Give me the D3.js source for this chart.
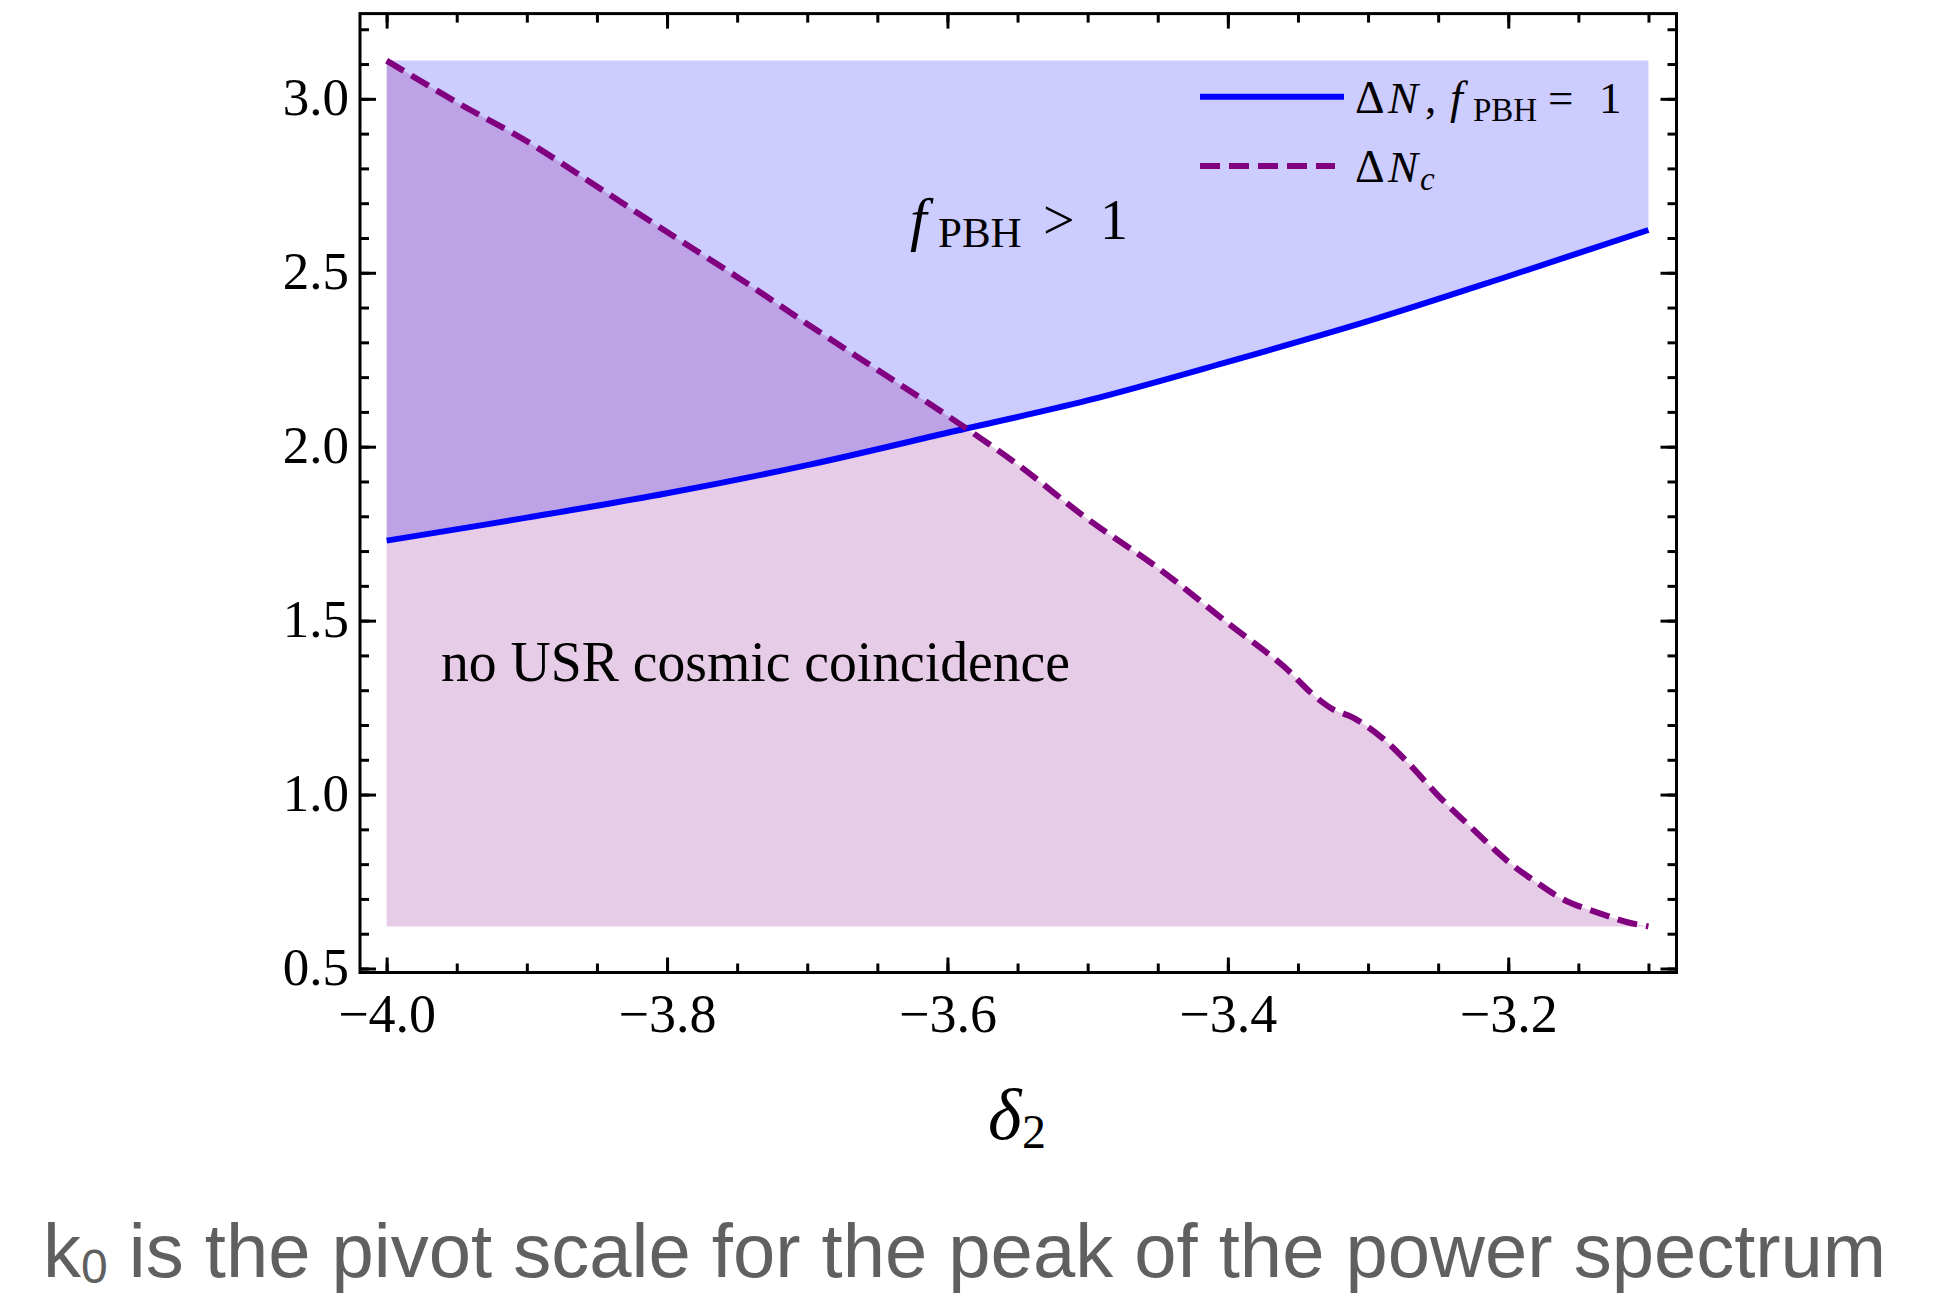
<!DOCTYPE html>
<html>
<head>
<meta charset="utf-8">
<script src="https://cdn.jsdelivr.net/npm/d3@7"></script>
<style>
  body { margin: 0; background: #fff; }
  svg { display: block; }
</style>
</head>
<body>
<div id="chart"></div>
<script>
// ΔN for f_PBH = 1 (solid blue)
const deltaF = [-4.0, -3.9, -3.8, -3.7, -3.6, -3.5, -3.4, -3.3, -3.2, -3.1]
const dNf = [1.73, 1.796, 1.866, 1.947, 2.04, 2.133, 2.244, 2.361, 2.49, 2.623]

// ΔN_c (dashed purple)
const deltaC = [-4.0, -3.95, -3.9, -3.85, -3.8, -3.75, -3.7, -3.65, -3.6, -3.55, -3.5, -3.45, -3.4,
  -3.36, -3.34, -3.325, -3.31, -3.29, -3.27, -3.25, -3.225, -3.2, -3.18, -3.16, -3.13, -3.115, -3.1]
const dNc = [3.11, 2.99, 2.878, 2.748, 2.617, 2.488, 2.353, 2.221, 2.089, 1.949, 1.792, 1.652, 1.493,
  1.368, 1.29, 1.245, 1.22, 1.163, 1.085, 0.997, 0.9, 0.807, 0.748, 0.697, 0.652, 0.633, 0.621]

const xMajor = [-4.0, -3.8, -3.6, -3.4, -3.2]
const yMajor = [0.5, 1.0, 1.5, 2.0, 2.5, 3.0]
const xMinor = d3.range(0, 19).map(i => +(-4.0 + i * 0.05).toFixed(2))
const yMinor = d3.range(0, 28).map(i => +(0.5 + i * 0.1).toFixed(1))

const W = 1937, H = 1296
const frame = { left: 360, right: 1676.5, top: 13.6, bottom: 972.5 }
const serif = '"Liberation Serif", "Times New Roman", serif'

const x = d3.scaleLinear().domain([-4.019, -3.080]).range([frame.left, frame.right])
const y = d3.scaleLinear().domain([0.4885, 3.245]).range([frame.bottom, frame.top])

const svg = d3.select('#chart').append('svg')
  .attr('width', W).attr('height', H)
  .style('background', '#fff')

const blue = deltaF.map((d, i) => ({ x: d, y: dNf[i] }))
const purple = deltaC.map((d, i) => ({ x: d, y: dNc[i] }))
const fillTop = d3.max(dNc)
const fillFloor = d3.min(dNc)

const curve = d3.curveCatmullRom.alpha(0.5)

// fills
svg.append('path')
  .datum(blue)
  .attr('d', d3.area().curve(curve).x(d => x(d.x)).y0(y(fillTop)).y1(d => y(d.y)))
  .attr('fill', '#0000ff').attr('fill-opacity', 0.2)

svg.append('path')
  .datum(purple)
  .attr('d', d3.area().curve(curve).x(d => x(d.x)).y0(y(fillFloor)).y1(d => y(d.y)))
  .attr('fill', '#800080').attr('fill-opacity', 0.2)

// lines
const line = d3.line().curve(curve).x(d => x(d.x)).y(d => y(d.y))
svg.append('path').datum(blue).attr('d', line)
  .attr('fill', 'none').attr('stroke', '#0000ff').attr('stroke-width', 6)
svg.append('path').datum(purple).attr('d', line)
  .attr('fill', 'none').attr('stroke', '#800080').attr('stroke-width', 6)
  .attr('stroke-dasharray', '20,9')

// ticks on all four sides, pointing in
const tickGroup = (axis, tx, ty) => {
  const g = svg.append('g').attr('transform', `translate(${tx},${ty})`).call(axis)
  g.select('.domain').remove()
  g.selectAll('line').attr('stroke', '#000').attr('stroke-width', 3)
  return g
}
tickGroup(d3.axisBottom(x).tickValues(xMinor).tickSize(-9).tickFormat(''), 0, frame.bottom)
tickGroup(d3.axisTop(x).tickValues(xMinor).tickSize(-9).tickFormat(''), 0, frame.top)
tickGroup(d3.axisTop(x).tickValues(xMajor).tickSize(-15).tickFormat(''), 0, frame.top)
tickGroup(d3.axisLeft(y).tickValues(yMinor).tickSize(-9).tickFormat(''), frame.left, 0)
tickGroup(d3.axisRight(y).tickValues(yMinor).tickSize(-9).tickFormat(''), frame.right, 0)
tickGroup(d3.axisRight(y).tickValues(yMajor).tickSize(-16).tickFormat(''), frame.right, 0)

const xAxis = tickGroup(d3.axisBottom(x).tickValues(xMajor).tickSize(-15).tickFormat(d3.format('.1f')), 0, frame.bottom)
xAxis.attr('font-family', null).attr('font-size', null)
xAxis.selectAll('text')
  .attr('y', 59).attr('dy', null)
  .style('font-family', serif).style('font-size', '54px').attr('fill', '#000')

const yAxis = tickGroup(d3.axisLeft(y).tickValues(yMajor).tickSize(-16).tickFormat(d3.format('.1f')), frame.left, 0)
yAxis.attr('font-family', null).attr('font-size', null)
yAxis.selectAll('text')
  .attr('x', -11).attr('dy', '0.3em')
  .style('font-family', serif).style('font-size', '53px').attr('fill', '#000')

// frame
svg.append('rect')
  .attr('x', frame.left).attr('y', frame.top)
  .attr('width', frame.right - frame.left).attr('height', frame.bottom - frame.top)
  .attr('fill', 'none').attr('stroke', '#000').attr('stroke-width', 3)

// small helper for math-like labels built from pieces
const piece = (px, py, str, size, italic) => svg.append('text')
  .attr('x', px).attr('y', py).text(str)
  .style('font-family', serif).style('font-size', size + 'px')
  .style('font-style', italic ? 'italic' : 'normal').attr('fill', '#000')

// legend
svg.append('line').attr('x1', 1200).attr('x2', 1344).attr('y1', 96.7).attr('y2', 96.7)
  .attr('stroke', '#0000ff').attr('stroke-width', 6)
svg.append('line').attr('x1', 1200).attr('x2', 1335).attr('y1', 166).attr('y2', 166)
  .attr('stroke', '#800080').attr('stroke-width', 6).attr('stroke-dasharray', '20,9')

piece(1355, 113, 'Δ', 46, false)
piece(1388, 113, 'N', 45, true)
piece(1425, 113, ',', 45, false)
piece(1450, 113, 'f', 46, true)
piece(1473, 121, 'PBH', 33, false)
piece(1548, 113, '=', 45, false)
piece(1599, 113, '1', 45, false)

piece(1355, 182, 'Δ', 46, false)
piece(1388, 182, 'N', 45, true)
piece(1420, 190, 'c', 33, true)

// region labels
piece(910, 239, 'f', 60, true)
piece(938, 247, 'PBH', 43, false)
piece(1043, 239, '>', 56, false)
piece(1100, 239, '1', 56, false)

piece(441, 681, 'no USR cosmic coincidence', 57, false)
  .attr('textLength', 629).attr('lengthAdjust', 'spacingAndGlyphs')

// axis label δ2
piece(988, 1139, 'δ', 72, true)
piece(1022, 1148, '2', 48, false)

// caption
const cap = svg.append('text')
  .attr('x', 43).attr('y', 1277)
  .style('font-family', '"Liberation Sans", Arial, sans-serif')
  .style('font-size', '76px').attr('fill', '#606060')
cap.append('tspan').text('k')
cap.append('tspan').attr('dy', 6).style('font-size', '48px').text('0')
cap.append('tspan').attr('dy', -6).text(' is the pivot scale for the peak of the power spectrum')
</script>
</body>
</html>
